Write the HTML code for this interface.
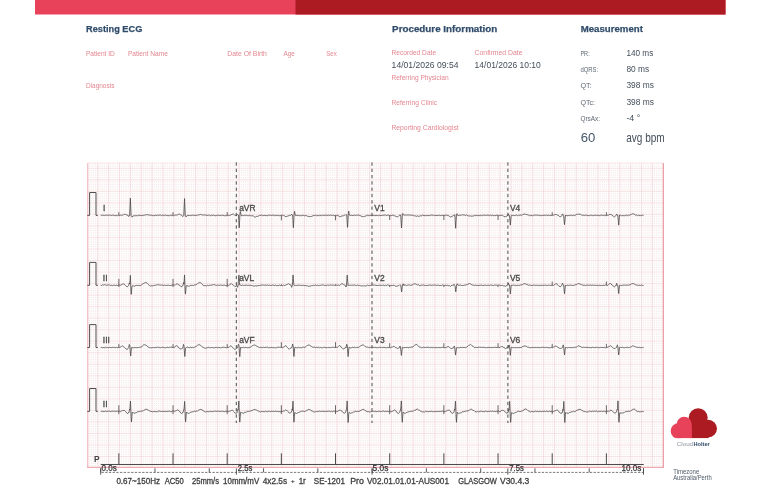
<!DOCTYPE html>
<html><head><meta charset="utf-8"><style>
html,body{margin:0;padding:0;background:#fff;width:768px;height:489px;overflow:hidden;position:relative}
svg text{font-family:"Liberation Sans", sans-serif}
svg{filter:blur(0.35px)}
</style></head><body>
<svg width="768" height="489" viewBox="0 0 768 489" style="position:absolute;left:0;top:0">
<rect x="35" y="0" width="690.5" height="14.5" fill="#e8415a"/>
<rect x="295.5" y="0" width="430" height="14.5" fill="#ac1b22"/>
<text x="86.10" y="32.30" font-size="9.74" fill="#304c6a" font-weight="bold" textLength="56.20" lengthAdjust="spacingAndGlyphs" stroke="#304c6a" stroke-width="0.25">Resting ECG</text>
<text x="392.10" y="32.40" font-size="9.74" fill="#304c6a" font-weight="bold" textLength="105.20" lengthAdjust="spacingAndGlyphs" stroke="#304c6a" stroke-width="0.25">Procedure Information</text>
<text x="580.70" y="32.20" font-size="9.74" fill="#304c6a" font-weight="bold" textLength="62.20" lengthAdjust="spacingAndGlyphs" stroke="#304c6a" stroke-width="0.25">Measurement</text>
<text x="85.90" y="55.60" font-size="6.98" fill="#e3868f" textLength="29.00" lengthAdjust="spacingAndGlyphs">Patient ID</text>
<text x="127.90" y="55.60" font-size="6.98" fill="#e3868f" textLength="40.00" lengthAdjust="spacingAndGlyphs">Patient Name</text>
<text x="227.30" y="55.60" font-size="6.98" fill="#e3868f" textLength="39.60" lengthAdjust="spacingAndGlyphs">Date Of Birth</text>
<text x="283.50" y="55.60" font-size="6.98" fill="#e3868f" textLength="11.30" lengthAdjust="spacingAndGlyphs">Age</text>
<text x="326.30" y="55.60" font-size="6.98" fill="#e3868f" textLength="10.40" lengthAdjust="spacingAndGlyphs">Sex</text>
<text x="85.90" y="88.40" font-size="6.98" fill="#e3868f" textLength="28.50" lengthAdjust="spacingAndGlyphs">Diagnosis</text>
<text x="391.60" y="55.40" font-size="6.98" fill="#e3868f" textLength="44.50" lengthAdjust="spacingAndGlyphs">Recorded Date</text>
<text x="474.60" y="55.40" font-size="6.98" fill="#e3868f" textLength="47.90" lengthAdjust="spacingAndGlyphs">Confirmed Date</text>
<text x="391.40" y="80.30" font-size="6.98" fill="#e3868f" textLength="57.30" lengthAdjust="spacingAndGlyphs">Referring Physician</text>
<text x="391.40" y="105.30" font-size="6.98" fill="#e3868f" textLength="45.80" lengthAdjust="spacingAndGlyphs">Referring Clinic</text>
<text x="391.40" y="130.10" font-size="6.98" fill="#e3868f" textLength="67.30" lengthAdjust="spacingAndGlyphs">Reporting Cardiologist</text>
<text x="391.60" y="67.80" font-size="9.89" fill="#434e5a" textLength="67.00" lengthAdjust="spacingAndGlyphs">14/01/2026 09:54</text>
<text x="474.60" y="67.80" font-size="9.89" fill="#434e5a" textLength="66.20" lengthAdjust="spacingAndGlyphs">14/01/2026 10:10</text>
<text x="580.40" y="55.70" font-size="6.98" fill="#5d6773" textLength="9.30" lengthAdjust="spacingAndGlyphs">PR:</text>
<text x="626.40" y="55.70" font-size="8.74" fill="#434e5a" textLength="26.90" lengthAdjust="spacingAndGlyphs">140 ms</text>
<text x="580.40" y="72.10" font-size="6.98" fill="#5d6773" textLength="17.80" lengthAdjust="spacingAndGlyphs">dQRS:</text>
<text x="626.40" y="72.10" font-size="8.74" fill="#434e5a" textLength="22.80" lengthAdjust="spacingAndGlyphs">80 ms</text>
<text x="580.40" y="88.40" font-size="6.98" fill="#5d6773" textLength="11.20" lengthAdjust="spacingAndGlyphs">QT:</text>
<text x="626.40" y="88.40" font-size="8.74" fill="#434e5a" textLength="27.50" lengthAdjust="spacingAndGlyphs">398 ms</text>
<text x="580.40" y="104.80" font-size="6.98" fill="#5d6773" textLength="14.60" lengthAdjust="spacingAndGlyphs">QTc:</text>
<text x="626.40" y="104.80" font-size="8.74" fill="#434e5a" textLength="27.50" lengthAdjust="spacingAndGlyphs">398 ms</text>
<text x="580.40" y="121.40" font-size="6.98" fill="#5d6773" textLength="19.60" lengthAdjust="spacingAndGlyphs">QrsAx:</text>
<text x="626.40" y="121.40" font-size="8.74" fill="#434e5a" textLength="13.90" lengthAdjust="spacingAndGlyphs">-4 °</text>
<text x="580.70" y="142.40" font-size="13.04" fill="#44566a" textLength="14.60" lengthAdjust="spacingAndGlyphs">60</text>
<text x="626.20" y="142.40" font-size="12.55" fill="#434e5a" textLength="38.50" lengthAdjust="spacingAndGlyphs">avg bpm</text>
<defs><filter id="gb" x="-1%" y="-1%" width="102%" height="102%"><feGaussianBlur stdDeviation="0.3"/></filter></defs><g filter="url(#gb)">
<rect x="87.7" y="162.9" width="575.5999999999999" height="304.5" fill="#fefcfc"/>
<path d="M87.7 163.69H663.3M87.7 165.99H663.3M87.7 170.61H663.3M87.7 172.91H663.3M87.7 175.22H663.3M87.7 177.52H663.3M87.7 182.13H663.3M87.7 184.44H663.3M87.7 186.74H663.3M87.7 189.05H663.3M87.7 193.66H663.3M87.7 195.97H663.3M87.7 198.27H663.3M87.7 200.58H663.3M87.7 205.19H663.3M87.7 207.50H663.3M87.7 209.80H663.3M87.7 212.11H663.3M87.7 216.72H663.3M87.7 219.02H663.3M87.7 221.33H663.3M87.7 223.63H663.3M87.7 228.25H663.3M87.7 230.55H663.3M87.7 232.86H663.3M87.7 235.16H663.3M87.7 239.77H663.3M87.7 242.08H663.3M87.7 244.38H663.3M87.7 246.69H663.3M87.7 251.30H663.3M87.7 253.61H663.3M87.7 255.91H663.3M87.7 258.22H663.3M87.7 262.83H663.3M87.7 265.14H663.3M87.7 267.44H663.3M87.7 269.75H663.3M87.7 274.36H663.3M87.7 276.66H663.3M87.7 278.97H663.3M87.7 281.27H663.3M87.7 285.89H663.3M87.7 288.19H663.3M87.7 290.50H663.3M87.7 292.80H663.3M87.7 297.41H663.3M87.7 299.72H663.3M87.7 302.02H663.3M87.7 304.33H663.3M87.7 308.94H663.3M87.7 311.25H663.3M87.7 313.55H663.3M87.7 315.86H663.3M87.7 320.47H663.3M87.7 322.78H663.3M87.7 325.08H663.3M87.7 327.39H663.3M87.7 332.00H663.3M87.7 334.30H663.3M87.7 336.61H663.3M87.7 338.91H663.3M87.7 343.53H663.3M87.7 345.83H663.3M87.7 348.14H663.3M87.7 350.44H663.3M87.7 355.05H663.3M87.7 357.36H663.3M87.7 359.66H663.3M87.7 361.97H663.3M87.7 366.58H663.3M87.7 368.89H663.3M87.7 371.19H663.3M87.7 373.50H663.3M87.7 378.11H663.3M87.7 380.42H663.3M87.7 382.72H663.3M87.7 385.03H663.3M87.7 389.64H663.3M87.7 391.94H663.3M87.7 394.25H663.3M87.7 396.55H663.3M87.7 401.17H663.3M87.7 403.47H663.3M87.7 405.78H663.3M87.7 408.08H663.3M87.7 412.69H663.3M87.7 415.00H663.3M87.7 417.30H663.3M87.7 419.61H663.3M87.7 424.22H663.3M87.7 426.53H663.3M87.7 428.83H663.3M87.7 431.14H663.3M87.7 435.75H663.3M87.7 438.06H663.3M87.7 440.36H663.3M87.7 442.67H663.3M87.7 447.28H663.3M87.7 449.58H663.3M87.7 451.89H663.3M87.7 454.19H663.3M87.7 458.81H663.3M87.7 461.11H663.3M87.7 463.42H663.3M87.7 465.72H663.3" stroke="#dfcccf" stroke-width="0.65" stroke-dasharray="0.65 1.5250" stroke-dashoffset="-1.0250" fill="none"/>
<path d="M97.75 162.9V467.4M108.62 162.9V467.4M119.50 162.9V467.4M130.38 162.9V467.4M141.25 162.9V467.4M152.12 162.9V467.4M163.00 162.9V467.4M173.88 162.9V467.4M184.75 162.9V467.4M195.62 162.9V467.4M206.50 162.9V467.4M217.38 162.9V467.4M228.25 162.9V467.4M239.12 162.9V467.4M250.00 162.9V467.4M260.88 162.9V467.4M271.75 162.9V467.4M282.62 162.9V467.4M293.50 162.9V467.4M304.38 162.9V467.4M315.25 162.9V467.4M326.12 162.9V467.4M337.00 162.9V467.4M347.88 162.9V467.4M358.75 162.9V467.4M369.62 162.9V467.4M380.50 162.9V467.4M391.38 162.9V467.4M402.25 162.9V467.4M413.12 162.9V467.4M424.00 162.9V467.4M434.88 162.9V467.4M445.75 162.9V467.4M456.62 162.9V467.4M467.50 162.9V467.4M478.38 162.9V467.4M489.25 162.9V467.4M500.12 162.9V467.4M511.00 162.9V467.4M521.88 162.9V467.4M532.75 162.9V467.4M543.62 162.9V467.4M554.50 162.9V467.4M565.38 162.9V467.4M576.25 162.9V467.4M587.12 162.9V467.4M598.00 162.9V467.4M608.88 162.9V467.4M619.75 162.9V467.4M630.62 162.9V467.4M641.50 162.9V467.4M652.38 162.9V467.4M87.7 168.30H663.3M87.7 179.83H663.3M87.7 191.36H663.3M87.7 202.88H663.3M87.7 214.41H663.3M87.7 225.94H663.3M87.7 237.47H663.3M87.7 249.00H663.3M87.7 260.52H663.3M87.7 272.05H663.3M87.7 283.58H663.3M87.7 295.11H663.3M87.7 306.64H663.3M87.7 318.16H663.3M87.7 329.69H663.3M87.7 341.22H663.3M87.7 352.75H663.3M87.7 364.28H663.3M87.7 375.80H663.3M87.7 387.33H663.3M87.7 398.86H663.3M87.7 410.39H663.3M87.7 421.92H663.3M87.7 433.44H663.3M87.7 444.97H663.3M87.7 456.50H663.3" stroke="#f1d0d4" stroke-width="0.6" fill="none"/>
<path d="M87.7 162.9V467.4" fill="none" stroke="#f2c2c7" stroke-width="1.3"/>
<path d="M87.10000000000001 467.4H663.3" fill="none" stroke="#eeabb2" stroke-width="1.1"/>
<path d="M663.3 162.9V467.9" fill="none" stroke="#e99aa3" stroke-width="1.25"/>
<path d="M87.7 162.9H663.3" fill="none" stroke="#f6dcdf" stroke-width="0.6"/>
</g>
<path d="M100.70 215.40L101.50 215.28L102.30 215.16L103.10 215.51L103.90 215.10L104.70 215.43L105.50 215.31L106.30 215.09L107.10 215.41L107.90 215.08L108.70 215.35L109.50 215.10L110.30 215.11L111.10 215.35L111.90 215.63L112.70 215.14L113.50 215.21L114.30 215.49L115.10 215.71L115.90 215.45L116.70 215.33L117.50 215.73L118.30 215.08L119.10 215.65L119.90 215.25L120.70 215.15L121.50 215.12L122.30 215.17L123.10 215.26L123.90 214.33L124.70 214.27L125.50 214.48L126.30 214.79L127.10 215.28L127.85 215.07L127.90 215.15L128.65 216.32L128.70 216.59L129.45 215.41L129.50 215.33L129.60 215.52L130.30 199.41L130.35 198.16L131.10 215.75L131.15 215.69L131.90 216.67L132.05 217.17L132.70 216.10L132.95 215.94L133.50 215.87L134.30 215.60L135.10 216.08L135.90 215.46L136.70 215.63L137.50 215.81L138.30 215.32L139.10 215.51L139.90 215.15L140.70 215.56L141.50 215.59L142.30 215.42L143.10 215.57L143.90 215.06L144.70 215.17L145.50 214.90L146.30 214.73L147.10 214.57L147.90 214.89L148.70 215.12L149.50 214.99L150.30 215.29L151.10 214.98L151.90 215.50L152.70 215.49L153.50 215.74L154.30 215.62L155.10 215.25L155.90 215.32L156.70 215.52L157.50 215.07L158.30 215.37L159.10 215.17L159.90 215.13L160.70 215.09L161.50 215.59L162.30 215.14L163.10 215.22L163.90 215.32L164.70 215.66L165.50 215.11L166.30 215.36L167.10 215.43L167.90 215.67L168.70 215.62L169.50 215.65L170.30 215.24L171.10 215.34L171.90 215.30L172.70 215.67L173.50 215.72L174.30 215.16L175.10 215.17L175.90 215.19L176.70 215.07L177.50 214.90L178.30 214.48L179.10 214.04L179.90 214.17L180.70 214.95L181.50 215.21L182.02 215.43L182.30 216.11L182.82 216.66L183.10 216.16L183.62 215.54L183.77 215.59L183.90 212.17L184.52 198.58L184.70 202.63L185.27 215.81L185.32 215.76L185.50 215.79L186.22 217.04L186.30 216.71L187.10 215.81L187.12 215.37L187.90 215.42L188.70 215.54L189.50 215.51L190.30 215.60L191.10 215.35L191.90 215.26L192.70 215.31L193.50 215.22L194.30 215.36L195.10 215.10L195.90 215.66L196.70 215.44L197.50 215.03L198.30 214.98L199.10 214.87L199.90 214.69L200.70 214.37L201.50 214.85L202.30 215.04L203.10 214.84L203.90 215.05L204.70 214.92L205.50 215.04L206.30 215.26L207.10 215.22L207.90 215.63L208.70 215.16L209.50 215.07L210.30 215.72L211.10 215.42L211.90 215.15L212.70 215.43L213.50 215.07L214.30 215.42L215.10 215.73L215.90 215.65L216.70 215.54L217.50 215.23L218.30 215.31L219.10 215.17L219.90 215.59L220.70 215.42L221.50 215.60L222.30 215.28L223.10 215.21L223.90 215.62L224.70 215.74L225.50 215.65L226.30 215.61L227.10 215.62L227.90 215.57L228.70 215.21L229.50 215.41L230.30 215.25L231.10 214.85L231.90 214.44L232.70 214.15L233.50 214.08L234.30 214.80L235.10 215.44L235.90 215.31L236.19 215.69L236.30 215.88M118.85 215.40V212.10M173.02 215.40V212.10M227.19 215.40V212.10M236.30 215.40L237.10 215.18L237.49 214.51L237.90 214.68L238.44 215.04L238.69 219.29L238.70 219.46L239.19 227.79L239.50 222.90L239.64 220.56L239.94 213.79L240.30 211.99L240.39 211.61L241.10 214.90L241.14 215.51L241.90 215.69L242.70 215.60L243.50 215.58L244.30 215.38L245.10 215.17L245.90 215.60L246.70 215.28L247.50 215.61L248.30 215.73L249.10 215.34L249.90 215.37L250.70 215.82L251.50 215.80L252.30 215.65L253.10 215.94L253.90 216.29L254.70 217.04L255.50 217.00L256.30 216.35L257.10 216.51L257.90 216.28L258.70 215.80L259.50 215.43L260.30 215.48L261.10 215.16L261.90 215.06L262.70 215.73L263.50 215.50L264.30 215.42L265.10 215.70L265.90 215.35L266.70 215.66L267.50 215.63L268.30 215.20L269.10 215.23L269.90 215.26L270.70 215.22L271.50 215.46L272.30 215.23L273.10 215.34L273.90 215.14L274.70 215.69L275.50 215.30L276.30 215.37L277.10 215.46L277.90 215.68L278.70 215.34L279.50 215.69L280.30 215.40L281.10 215.42L281.90 215.42L282.70 215.11L283.50 215.54L284.30 215.72L285.10 216.11L285.90 217.00L286.70 216.40L287.50 216.12L288.30 215.86L289.10 215.52L289.90 215.29L290.46 215.42L290.70 215.28L291.50 214.91L291.66 214.32L292.30 215.07L292.61 215.06L292.86 219.34L293.10 223.63L293.36 227.71L293.81 220.36L293.90 218.55L294.11 214.09L294.56 211.36L294.70 212.23L295.31 215.40L295.50 215.41L296.30 215.53L297.10 215.37L297.90 215.42L298.70 215.38L299.50 215.71L300.30 215.54L301.10 215.66L301.90 215.71L302.70 215.24L303.50 215.46L304.30 215.76L305.10 215.78L305.90 215.45L306.70 215.70L307.50 216.26L308.30 216.31L309.10 216.61L309.90 216.45L310.70 216.63L311.50 216.38L312.30 216.14L313.10 215.39L313.90 215.65L314.70 215.55L315.50 215.16L316.30 215.67L317.10 215.73L317.90 215.20L318.70 215.72L319.50 215.33L320.30 215.39L321.10 215.74L321.90 215.63L322.70 215.16L323.50 215.35L324.30 215.41L325.10 215.29L325.90 215.19L326.70 215.27L327.50 215.56L328.30 215.06L329.10 215.44L329.90 215.36L330.70 215.06L331.50 215.28L332.30 215.49L333.10 215.41L333.90 215.10L334.70 215.74L335.50 215.60L336.30 215.74L337.10 215.19L337.90 215.50L338.70 215.76L339.50 216.78L340.30 216.64L341.10 216.25L341.90 215.94L342.70 215.90L343.50 215.67L344.30 215.24L344.63 215.16L345.10 215.38L345.83 214.65L345.90 214.79L346.70 214.89L346.78 214.92L347.03 219.63L347.50 227.16L347.53 227.40L347.98 220.63L348.28 213.89L348.30 213.90L348.73 211.11L349.10 213.62L349.48 215.10L349.90 215.65L350.70 215.37L351.50 215.29L352.30 215.44L353.10 215.70L353.90 215.24L354.70 215.14L355.50 215.42L356.30 215.22L357.10 215.13L357.90 215.19L358.70 215.16L359.50 215.37L360.30 215.64L361.10 215.92L361.90 216.58L362.70 216.54L363.50 216.80L364.30 216.47L365.10 216.32L365.90 215.75L366.70 215.61L367.50 215.25L368.30 215.64L369.10 215.46L369.90 215.19L370.70 215.38L371.50 215.70L372.00 215.12M281.36 215.40V220.30M335.53 215.40V220.30M372.00 215.40L372.80 215.62L373.60 215.35L374.40 215.40L375.20 215.63L376.00 215.33L376.80 215.40L377.60 215.53L378.40 215.74L379.20 215.29L380.00 215.63L380.80 215.54L381.60 215.50L382.40 215.33L383.20 215.29L384.00 215.09L384.80 215.14L385.60 215.10L386.40 215.57L387.20 215.23L388.00 215.16L388.80 215.11L389.60 215.64L390.40 215.66L391.20 215.52L392.00 215.25L392.80 215.25L393.60 215.38L394.40 215.74L395.20 215.96L396.00 216.60L396.80 216.63L397.60 216.87L398.40 216.41L399.00 215.81L399.20 215.35L400.00 215.02L400.70 215.05L400.80 216.75L401.00 219.83L401.50 228.02L401.60 226.50L402.00 220.16L402.30 214.59L402.40 214.60L402.80 213.45L403.20 214.43L403.60 215.10L404.00 215.32L404.80 215.04L405.60 214.99L406.40 215.11L407.20 214.96L408.00 215.10L408.80 214.96L409.60 215.08L410.40 215.04L411.20 215.17L412.00 215.42L412.80 215.24L413.60 215.36L414.40 216.01L415.20 215.63L416.00 216.21L416.80 216.28L417.60 215.87L418.40 216.33L419.20 216.21L420.00 215.85L420.80 215.77L421.60 215.72L422.40 215.19L423.20 215.43L424.00 215.41L424.80 215.64L425.60 215.61L426.40 215.63L427.20 215.46L428.00 215.67L428.80 215.53L429.60 215.54L430.40 215.21L431.20 215.07L432.00 215.14L432.80 215.30L433.60 215.12L434.40 215.64L435.20 215.44L436.00 215.49L436.80 215.49L437.60 215.53L438.40 215.39L439.20 215.05L440.00 215.61L440.80 215.57L441.60 215.40L442.40 215.42L443.20 215.51L444.00 215.10L444.80 215.57L445.60 215.23L446.40 215.11L447.20 215.28L448.00 215.74L448.80 215.67L449.60 216.50L450.40 217.06L451.20 216.76L452.00 216.34L452.80 215.94L453.17 215.90L453.60 215.46L454.17 214.77L454.40 214.95L454.87 214.89L455.17 219.93L455.20 220.48L455.67 228.27L456.00 222.73L456.17 220.21L456.47 214.46L456.80 213.83L456.97 213.64L457.60 215.17L457.77 215.53L458.40 215.51L459.20 215.21L460.00 215.32L460.80 215.20L461.60 215.09L462.40 214.74L463.20 215.20L464.00 214.69L464.80 215.29L465.60 215.36L466.40 214.86L467.20 215.33L468.00 215.76L468.80 216.06L469.60 215.89L470.40 215.94L471.20 215.99L472.00 216.49L472.80 215.85L473.60 215.94L474.40 215.46L475.20 215.59L476.00 215.80L476.80 215.18L477.60 215.64L478.40 215.41L479.20 215.67L480.00 215.54L480.80 215.21L481.60 215.68L482.40 215.39L483.20 215.07L484.00 215.05L484.80 215.39L485.60 215.37L486.40 215.26L487.20 215.15L488.00 215.29L488.80 215.27L489.60 215.64L490.40 215.05L491.20 215.58L492.00 215.64L492.80 215.13L493.60 215.70L494.40 215.55L495.20 215.68L496.00 215.25L496.80 215.31L497.60 215.33L498.40 215.75L499.20 215.46L500.00 215.30L500.80 215.37L501.60 215.32L502.40 215.33L503.20 215.72L504.00 216.70L504.80 216.63L505.60 217.00L506.40 216.11L507.20 215.67L507.34 215.78L507.90 214.92M389.70 215.40V220.00M443.87 215.40V220.00M498.04 215.40V220.00M507.90 215.11L508.44 213.88L508.70 214.74L509.24 215.68L509.49 215.62L509.50 215.61L510.30 224.65L510.34 225.11L511.10 216.43L511.19 215.55L511.90 215.08L512.70 215.56L513.50 215.37L514.30 215.58L515.10 215.50L515.90 215.25L516.70 215.08L517.50 215.70L518.30 215.14L519.10 215.36L519.90 215.24L520.70 215.11L521.50 215.24L522.30 215.11L523.10 214.28L523.90 214.29L524.70 213.97L525.50 214.31L526.30 214.50L527.10 214.67L527.90 214.92L528.70 215.10L529.50 215.65L530.30 215.39L531.10 215.20L531.90 215.68L532.70 215.75L533.50 215.36L534.30 215.15L535.10 215.18L535.90 215.11L536.70 215.29L537.50 215.11L538.30 215.22L539.10 215.23L539.90 215.45L540.70 215.67L541.50 215.57L542.30 215.34L543.10 215.34L543.90 215.42L544.70 215.31L545.50 215.29L546.30 215.09L547.10 215.24L547.90 215.73L548.70 215.14L549.50 215.40L550.30 215.49L551.10 215.65L551.90 215.20L552.70 215.22L553.50 215.12L554.30 214.95L555.10 214.49L555.90 214.52L556.70 214.66L557.50 215.24L558.30 215.26L559.10 215.94L559.90 216.84L560.70 216.73L561.50 215.87L561.81 215.77L562.30 214.26L562.61 213.89L563.10 215.14L563.41 215.64L563.66 215.65L563.90 218.39L564.51 224.62L564.70 222.43L565.36 215.16L565.50 215.42L566.30 215.53L567.10 215.71L567.90 215.56L568.70 215.50L569.50 215.59L570.30 215.37L571.10 215.44L571.90 215.08L572.70 215.59L573.50 215.19L574.30 215.62L575.10 215.31L575.90 214.86L576.70 214.42L577.50 214.18L578.30 214.23L579.10 214.27L579.90 214.07L580.70 214.38L581.50 215.01L582.30 215.26L583.10 215.25L583.90 215.18L584.70 215.46L585.50 215.06L586.30 215.26L587.10 215.37L587.90 215.72L588.70 215.50L589.50 215.67L590.30 215.38L591.10 215.21L591.90 215.22L592.70 215.72L593.50 215.54L594.30 215.27L595.10 215.07L595.90 215.40L596.70 215.52L597.50 215.34L598.30 215.23L599.10 215.52L599.90 215.70L600.70 215.21L601.50 215.07L602.30 215.29L603.10 215.34L603.90 215.53L604.70 215.19L605.50 215.61L606.30 215.56L607.10 215.37L607.90 215.04L608.70 215.22L609.50 214.27L610.30 214.43L611.10 214.37L611.90 214.96L612.70 215.97L613.50 216.30L614.30 217.01L615.10 216.29L615.90 215.53L615.98 215.51L616.70 214.07L616.78 214.08L617.50 215.57L617.58 215.16L617.83 215.33L618.30 220.40L618.68 225.13L619.10 219.90L619.53 215.09L619.90 215.09L620.70 215.33L621.50 215.68L622.30 215.67L623.10 215.56L623.90 215.75L624.70 215.70L625.50 215.28L626.30 215.18L627.10 215.70L627.90 215.54L628.70 214.97L629.50 215.28L630.30 214.83L631.10 214.50L631.90 214.15L632.70 213.87L633.50 213.82L634.30 214.28L635.10 214.67L635.90 215.38L636.70 214.99L637.50 215.67L638.30 215.18L639.10 215.30L639.90 215.62L640.70 215.63L641.50 215.35L642.30 215.08L643.10 215.38L643.60 215.31M552.21 215.40V212.20M606.38 215.40V212.20M100.70 285.30L101.50 285.49L102.30 284.88L103.10 284.90L103.90 285.20L104.70 284.57L105.50 284.87L106.30 285.22L107.10 285.28L107.90 284.85L108.70 284.91L109.50 284.96L110.30 285.58L111.10 285.13L111.90 285.47L112.70 285.58L113.50 285.19L114.30 285.14L115.10 285.62L115.90 285.38L116.70 285.13L117.50 285.45L118.30 285.17L119.10 285.14L119.90 284.90L120.70 285.22L121.50 284.81L122.30 283.97L123.10 284.05L123.90 283.93L124.70 284.72L125.50 285.39L126.30 286.37L127.10 286.90L127.90 286.25L128.65 285.57L128.70 285.48L129.35 282.88L129.50 283.72L129.75 284.12L130.05 280.49L130.30 276.14L130.35 275.34L130.50 277.92L130.95 290.97L131.10 292.56L131.25 294.35L131.90 286.90L132.00 286.04L132.70 285.70L133.50 285.88L134.30 286.26L135.10 285.80L135.90 285.50L136.70 285.30L137.50 285.52L138.30 285.26L139.10 285.66L139.90 285.53L140.70 285.51L141.50 284.79L142.30 284.28L143.10 283.72L143.90 283.32L144.70 282.89L145.50 282.47L146.30 282.52L147.10 283.22L147.90 284.10L148.70 284.84L149.50 285.46L150.30 285.90L151.10 285.96L151.90 285.58L152.70 285.96L153.50 285.41L154.30 285.44L155.10 285.18L155.90 285.33L156.70 284.86L157.50 284.80L158.30 284.74L159.10 284.66L159.90 285.22L160.70 285.08L161.50 285.00L162.30 285.12L163.10 285.59L163.90 285.28L164.70 285.10L165.50 285.51L166.30 285.41L167.10 285.64L167.90 285.02L168.70 285.28L169.50 285.52L170.30 285.54L171.10 285.59L171.90 284.98L172.70 285.15L173.50 285.02L174.30 284.99L175.10 285.25L175.90 284.38L176.70 284.06L177.50 283.75L178.30 284.72L179.10 285.02L179.90 285.40L180.70 286.45L181.50 286.91L182.30 285.87L182.82 285.81L183.10 284.64L183.52 282.68L183.90 284.18L183.92 284.09L184.22 280.07L184.52 274.94L184.67 277.80L184.70 278.72L185.12 290.69L185.42 294.14L185.50 293.44L186.17 285.97L186.30 285.66L187.10 285.90L187.90 285.89L188.70 286.27L189.50 285.96L190.30 285.44L191.10 285.30L191.90 285.38L192.70 285.40L193.50 285.41L194.30 284.96L195.10 284.88L195.90 285.00L196.70 284.36L197.50 283.66L198.30 283.00L199.10 282.95L199.90 282.38L200.70 282.89L201.50 283.38L202.30 284.17L203.10 285.16L203.90 285.76L204.70 285.64L205.50 285.65L206.30 285.98L207.10 285.46L207.90 285.16L208.70 285.64L209.50 285.19L210.30 285.36L211.10 284.97L211.90 285.22L212.70 284.88L213.50 284.67L214.30 284.63L215.10 285.09L215.90 285.24L216.70 285.50L217.50 284.97L218.30 285.37L219.10 285.20L219.90 285.30L220.70 285.05L221.50 285.15L222.30 285.31L223.10 285.60L223.90 285.03L224.70 285.29L225.50 285.51L226.30 285.63L227.10 285.09L227.90 285.02L228.70 285.47L229.50 285.11L230.30 284.11L231.10 283.39L231.90 284.28L232.70 284.57L233.50 285.48L234.30 285.83L235.10 286.65L235.90 286.30L236.30 286.48M118.85 287.10V278.90M173.02 287.10V278.90M227.19 287.10V278.90M236.30 284.92L236.59 284.85L237.10 286.14L237.49 287.29L237.90 286.49L238.09 285.66L238.39 281.27L238.70 277.45L238.89 275.11L239.50 282.80L239.69 285.04L240.30 285.12L241.10 285.46L241.90 285.58L242.70 284.98L243.50 285.34L244.30 285.48L245.10 284.98L245.90 285.54L246.70 285.03L247.50 285.37L248.30 285.34L249.10 285.41L249.90 285.21L250.70 285.35L251.50 285.56L252.30 285.61L253.10 285.95L253.90 285.96L254.70 286.05L255.50 285.74L256.30 286.04L257.10 285.78L257.90 285.43L258.70 285.66L259.50 285.58L260.30 285.31L261.10 285.09L261.90 285.29L262.70 285.03L263.50 285.04L264.30 285.25L265.10 285.01L265.90 285.26L266.70 285.31L267.50 284.98L268.30 285.40L269.10 285.01L269.90 285.46L270.70 285.49L271.50 285.31L272.30 284.99L273.10 285.30L273.90 285.21L274.70 285.62L275.50 285.05L276.30 285.55L277.10 285.65L277.90 285.46L278.70 285.52L279.50 285.09L280.30 285.64L281.10 285.29L281.90 285.62L282.70 285.59L283.50 285.06L284.30 285.49L285.10 285.54L285.90 284.76L286.70 284.55L287.50 284.29L288.30 283.56L289.10 284.31L289.90 284.42L290.70 285.24L290.76 284.80L291.50 286.71L291.66 287.34L292.26 285.68L292.30 285.13L292.56 281.47L293.06 274.97L293.10 275.28L293.86 285.08L293.90 285.06L294.70 285.61L295.50 285.43L296.30 285.58L297.10 285.07L297.90 285.50L298.70 285.03L299.50 285.32L300.30 285.40L301.10 285.20L301.90 285.56L302.70 285.35L303.50 285.38L304.30 285.63L305.10 285.15L305.90 285.89L306.70 285.80L307.50 285.81L308.30 286.25L309.10 285.94L309.90 286.40L310.70 285.97L311.50 285.64L312.30 285.75L313.10 285.40L313.90 285.14L314.70 285.50L315.50 284.99L316.30 285.53L317.10 285.13L317.90 285.40L318.70 285.64L319.50 285.36L320.30 285.41L321.10 285.17L321.90 284.95L322.70 284.97L323.50 285.05L324.30 285.38L325.10 285.25L325.90 285.31L326.70 285.58L327.50 285.04L328.30 285.11L329.10 285.41L329.90 284.97L330.70 284.95L331.50 285.20L332.30 285.02L333.10 285.20L333.90 285.11L334.70 285.36L335.50 285.36L336.30 285.09L337.10 285.39L337.90 285.28L338.70 285.03L339.50 285.52L340.30 284.80L341.10 284.26L341.90 283.69L342.70 283.91L343.50 284.44L344.30 284.93L344.93 284.98L345.10 285.28L345.83 286.71L345.90 287.02L346.43 285.93L346.70 281.81L346.73 281.57L347.23 275.06L347.50 278.85L348.03 285.46L348.30 285.12L349.10 285.58L349.90 284.98L350.70 285.32L351.50 285.23L352.30 285.12L353.10 284.99L353.90 285.50L354.70 284.96L355.50 285.34L356.30 285.61L357.10 285.06L357.90 285.12L358.70 285.45L359.50 285.46L360.30 285.69L361.10 285.98L361.90 285.71L362.70 285.93L363.50 285.96L364.30 285.70L365.10 286.14L365.90 285.88L366.70 285.68L367.50 285.07L368.30 285.59L369.10 285.49L369.90 285.28L370.70 285.47L371.50 285.27L372.00 285.11M281.36 285.30V284.30M335.53 285.30V284.30M372.00 285.30L372.80 285.02L373.60 285.11L374.40 284.98L375.20 285.18L376.00 285.47L376.80 285.44L377.60 285.54L378.40 285.45L379.20 285.14L380.00 285.34L380.80 285.26L381.60 285.50L382.40 285.32L383.20 285.14L384.00 285.40L384.80 285.63L385.60 285.10L386.40 285.57L387.20 284.96L388.00 285.13L388.80 285.12L389.60 285.47L390.40 285.61L391.20 285.47L392.00 285.18L392.80 285.58L393.60 285.26L394.40 285.38L395.20 286.14L396.00 286.17L396.80 286.18L397.60 285.89L398.40 285.84L398.90 285.38L399.20 285.36L399.80 284.76L400.00 285.02L400.70 285.26L400.80 285.46L401.60 291.85L402.30 285.98L402.40 284.92L403.10 283.99L403.20 283.78L403.90 285.59L404.00 285.05L404.80 284.97L405.60 285.02L406.40 285.60L407.20 285.19L408.00 285.05L408.80 284.97L409.60 284.96L410.40 285.37L411.20 285.22L412.00 285.04L412.80 284.73L413.60 283.87L414.40 283.94L415.20 283.71L416.00 284.23L416.80 284.59L417.60 285.02L418.40 284.72L419.20 285.45L420.00 285.55L420.80 285.60L421.60 285.02L422.40 285.09L423.20 285.03L424.00 284.97L424.80 285.54L425.60 285.52L426.40 285.39L427.20 285.53L428.00 285.39L428.80 285.15L429.60 285.02L430.40 285.02L431.20 285.48L432.00 285.09L432.80 285.17L433.60 285.25L434.40 284.96L435.20 285.13L436.00 285.15L436.80 285.45L437.60 285.21L438.40 285.17L439.20 285.62L440.00 285.30L440.80 285.55L441.60 285.38L442.40 284.97L443.20 285.24L444.00 285.26L444.80 285.49L445.60 285.19L446.40 285.45L447.20 285.36L448.00 285.22L448.80 285.89L449.60 285.65L450.40 286.32L451.20 285.75L452.00 285.34L452.80 285.24L453.07 285.58L453.60 285.26L453.97 284.27L454.40 284.93L454.87 285.30L454.97 285.51L455.20 286.95L455.77 291.80L456.00 289.82L456.47 286.34L456.57 284.96L456.80 285.03L457.27 283.75L457.60 284.28L458.07 285.44L458.40 285.30L459.20 285.03L460.00 285.40L460.80 285.01L461.60 285.50L462.40 285.44L463.20 285.49L464.00 285.36L464.80 285.11L465.60 285.00L466.40 284.74L467.20 284.73L468.00 283.79L468.80 284.10L469.60 283.51L470.40 283.90L471.20 284.32L472.00 285.12L472.80 285.09L473.60 285.13L474.40 285.54L475.20 285.11L476.00 285.27L476.80 285.32L477.60 285.48L478.40 285.48L479.20 285.40L480.00 285.19L480.80 285.18L481.60 285.06L482.40 285.54L483.20 285.41L484.00 285.47L484.80 285.07L485.60 285.26L486.40 285.49L487.20 285.36L488.00 285.04L488.80 285.27L489.60 285.57L490.40 285.12L491.20 285.08L492.00 285.16L492.80 285.44L493.60 285.54L494.40 285.06L495.20 285.06L496.00 285.12L496.80 285.18L497.60 285.32L498.40 285.06L499.20 285.18L500.00 285.08L500.80 285.64L501.60 285.51L502.40 285.19L503.20 286.05L504.00 285.73L504.80 286.01L505.60 286.24L506.40 285.81L507.20 285.57L507.24 285.35L507.90 284.60M389.70 285.30V287.10M443.87 285.30V287.10M498.04 285.30V287.10M507.90 284.51L508.34 283.28L508.70 283.85L509.14 285.10L509.50 285.23L509.54 284.98L510.30 293.30L510.34 294.00L511.10 285.86L511.14 285.30L511.90 285.39L512.70 285.27L513.50 285.05L514.30 285.37L515.10 285.23L515.90 285.47L516.70 285.59L517.50 285.25L518.30 285.35L519.10 285.45L519.90 285.17L520.70 284.91L521.50 285.00L522.30 284.71L523.10 284.17L523.90 283.75L524.70 283.75L525.50 283.86L526.30 284.26L527.10 284.59L527.90 284.83L528.70 285.25L529.50 284.97L530.30 285.23L531.10 285.49L531.90 285.45L532.70 285.39L533.50 285.13L534.30 285.25L535.10 285.27L535.90 285.39L536.70 285.24L537.50 285.42L538.30 285.60L539.10 285.08L539.90 285.41L540.70 285.49L541.50 285.22L542.30 285.29L543.10 285.63L543.90 284.98L544.70 285.33L545.50 285.06L546.30 285.50L547.10 285.61L547.90 285.31L548.70 285.02L549.50 285.35L550.30 285.33L551.10 285.45L551.90 285.31L552.70 285.37L553.50 285.39L554.30 284.77L555.10 284.01L555.90 283.92L556.70 283.70L557.50 284.79L558.30 285.36L559.10 286.34L559.90 286.32L560.70 286.69L561.50 285.68L561.71 285.35L562.30 283.65L562.51 283.11L563.10 284.40L563.31 285.25L563.71 285.25L563.90 287.46L564.51 293.70L564.70 291.62L565.31 285.11L565.50 285.47L566.30 285.61L567.10 285.32L567.90 285.10L568.70 285.51L569.50 285.22L570.30 285.10L571.10 285.04L571.90 285.49L572.70 285.51L573.50 285.36L574.30 285.18L575.10 285.08L575.90 284.55L576.70 284.63L577.50 283.75L578.30 283.64L579.10 283.76L579.90 284.06L580.70 284.28L581.50 284.59L582.30 285.07L583.10 284.93L583.90 285.50L584.70 285.19L585.50 285.54L586.30 285.14L587.10 285.21L587.90 285.13L588.70 285.25L589.50 285.08L590.30 284.95L591.10 285.46L591.90 285.15L592.70 285.12L593.50 285.16L594.30 285.29L595.10 285.25L595.90 285.40L596.70 285.41L597.50 285.20L598.30 285.60L599.10 285.55L599.90 284.99L600.70 285.53L601.50 285.58L602.30 285.50L603.10 285.05L603.90 285.53L604.70 285.39L605.50 284.96L606.30 284.95L607.10 285.57L607.90 285.19L608.70 284.40L609.50 283.60L610.30 283.36L611.10 283.91L611.90 285.09L612.70 285.54L613.50 286.09L614.30 286.87L615.10 286.40L615.88 285.43L615.90 285.87L616.68 283.26L616.70 283.43L617.48 285.43L617.50 285.59L617.88 285.50L618.30 290.00L618.68 293.59L619.10 289.47L619.48 285.32L619.90 285.47L620.70 285.26L621.50 285.57L622.30 285.34L623.10 285.14L623.90 285.11L624.70 285.05L625.50 285.29L626.30 284.99L627.10 285.26L627.90 285.01L628.70 285.16L629.50 284.97L630.30 284.66L631.10 284.43L631.90 283.39L632.70 283.75L633.50 283.58L634.30 284.01L635.10 284.55L635.90 285.07L636.70 285.00L637.50 285.17L638.30 285.60L639.10 285.00L639.90 285.39L640.70 285.40L641.50 284.97L642.30 285.38L643.10 285.43L643.60 285.60M552.21 285.29V281.59M606.38 285.29V281.59M100.70 347.51L101.50 347.38L102.30 347.84L103.10 347.51L103.90 347.49L104.70 347.78L105.50 347.17L106.30 347.65L107.10 347.59L107.90 347.39L108.70 347.75L109.50 347.41L110.30 347.48L111.10 347.52L111.90 347.69L112.70 347.30L113.50 347.45L114.30 347.45L115.10 347.54L115.90 347.73L116.70 347.36L117.50 347.73L118.30 347.43L119.10 347.49L119.90 347.23L120.70 346.98L121.50 346.48L122.30 345.81L123.10 346.46L123.90 346.98L124.70 347.58L125.50 348.30L126.30 349.30L127.10 349.39L127.90 348.75L128.55 347.63L128.70 347.37L129.35 344.46L129.50 344.84L129.85 345.94L130.15 350.63L130.30 352.06L130.65 355.99L131.10 351.60L131.45 347.58L131.90 347.61L132.70 347.70L133.50 347.79L134.30 347.58L135.10 347.58L135.90 347.59L136.70 347.64L137.50 347.56L138.30 347.61L139.10 347.26L139.90 347.49L140.70 347.15L141.50 346.99L142.30 345.96L143.10 345.31L143.90 344.59L144.70 344.80L145.50 345.04L146.30 345.39L147.10 345.90L147.90 346.90L148.70 347.42L149.50 347.68L150.30 347.73L151.10 347.83L151.90 347.82L152.70 347.58L153.50 347.54L154.30 347.62L155.10 347.81L155.90 347.19L156.70 347.55L157.50 347.18L158.30 347.23L159.10 347.72L159.90 347.55L160.70 347.79L161.50 347.46L162.30 347.16L163.10 347.42L163.90 347.56L164.70 347.81L165.50 347.84L166.30 347.48L167.10 347.44L167.90 347.22L168.70 347.60L169.50 347.30L170.30 347.26L171.10 347.16L171.90 347.15L172.70 347.63L173.50 347.21L174.30 347.64L175.10 346.47L175.90 346.19L176.70 345.51L177.50 346.18L178.30 347.45L179.10 347.71L179.90 348.86L180.70 349.14L181.50 348.82L182.30 348.51L182.72 348.10L183.10 346.36L183.52 344.35L183.90 345.46L184.02 346.34L184.32 350.92L184.70 354.87L184.82 356.50L185.50 348.63L185.62 347.83L186.30 347.65L187.10 347.16L187.90 347.16L188.70 347.61L189.50 347.72L190.30 347.21L191.10 347.37L191.90 347.66L192.70 347.25L193.50 347.69L194.30 347.32L195.10 346.78L195.90 346.57L196.70 346.09L197.50 345.30L198.30 344.91L199.10 344.35L199.90 345.08L200.70 345.39L201.50 346.30L202.30 346.93L203.10 347.29L203.90 347.65L204.70 348.14L205.50 348.27L206.30 348.03L207.10 347.72L207.90 347.42L208.70 347.21L209.50 347.84L210.30 347.64L211.10 347.73L211.90 347.38L212.70 347.57L213.50 347.83L214.30 347.73L215.10 347.57L215.90 347.37L216.70 347.45L217.50 347.77L218.30 347.41L219.10 347.63L219.90 347.57L220.70 347.78L221.50 347.72L222.30 347.35L223.10 347.15L223.90 347.33L224.70 347.45L225.50 347.56L226.30 347.72L227.10 347.77L227.90 347.13L228.70 347.44L229.50 346.74L230.30 346.03L231.10 345.98L231.90 346.61L232.70 347.71L233.50 348.31L234.30 349.07L235.10 349.69L235.90 348.81L236.30 348.20M118.85 347.50V344.10M173.02 347.50V344.10M227.19 347.50V344.10M236.30 348.20L237.10 347.74L237.59 347.78L237.90 346.12L238.49 344.18L238.70 345.12L238.99 345.76L239.39 352.18L239.50 353.49L239.79 356.68L240.30 350.63L240.59 347.33L241.10 347.68L241.90 347.70L242.70 347.47L243.50 347.21L244.30 347.71L245.10 347.69L245.90 347.31L246.70 347.55L247.50 347.77L248.30 347.75L249.10 347.44L249.90 347.29L250.70 347.12L251.50 346.42L252.30 345.85L253.10 345.25L253.90 345.22L254.70 344.93L255.50 345.41L256.30 345.86L257.10 346.53L257.90 346.73L258.70 346.95L259.50 347.76L260.30 347.38L261.10 347.22L261.90 347.59L262.70 347.70L263.50 347.26L264.30 347.57L265.10 347.39L265.90 347.51L266.70 347.16L267.50 347.17L268.30 347.84L269.10 347.76L269.90 347.49L270.70 347.55L271.50 347.33L272.30 347.70L273.10 347.45L273.90 347.81L274.70 347.69L275.50 347.72L276.30 347.82L277.10 347.33L277.90 347.18L278.70 347.29L279.50 347.28L280.30 347.21L281.10 347.19L281.90 347.53L282.70 347.70L283.50 347.14L284.30 346.82L285.10 346.09L285.90 345.56L286.70 346.76L287.50 347.59L288.30 348.26L289.10 349.31L289.90 348.51L290.70 348.07L291.50 347.73L291.76 347.89L292.30 345.54L292.66 343.93L293.10 345.68L293.16 345.71L293.56 352.43L293.90 356.35L293.96 356.51L294.70 347.87L294.76 347.33L295.50 347.40L296.30 347.78L297.10 347.78L297.90 347.74L298.70 347.18L299.50 347.70L300.30 347.65L301.10 347.60L301.90 347.83L302.70 347.16L303.50 347.16L304.30 347.43L305.10 347.26L305.90 346.61L306.70 345.75L307.50 345.40L308.30 345.20L309.10 344.82L309.90 345.39L310.70 345.94L311.50 346.41L312.30 347.07L313.10 347.09L313.90 347.25L314.70 347.23L315.50 347.62L316.30 347.16L317.10 347.65L317.90 347.29L318.70 347.18L319.50 347.80L320.30 347.30L321.10 347.80L321.90 347.76L322.70 347.77L323.50 347.25L324.30 347.46L325.10 347.22L325.90 347.80L326.70 347.74L327.50 347.59L328.30 347.47L329.10 347.39L329.90 347.73L330.70 347.48L331.50 347.59L332.30 347.25L333.10 347.31L333.90 347.19L334.70 347.65L335.50 347.54L336.30 347.24L337.10 347.65L337.90 346.86L338.70 346.21L339.50 345.47L340.30 345.89L341.10 347.21L341.90 347.81L342.70 348.50L343.50 348.97L344.30 348.36L345.10 348.15L345.90 347.31L345.93 347.91L346.70 344.20L346.83 344.28L347.33 346.06L347.50 348.36L347.73 352.08L348.13 356.55L348.30 354.58L348.93 347.29L349.10 347.40L349.90 347.84L350.70 347.85L351.50 347.80L352.30 347.22L353.10 347.35L353.90 347.78L354.70 347.19L355.50 347.66L356.30 347.34L357.10 347.79L357.90 347.03L358.70 347.40L359.50 346.73L360.30 346.07L361.10 345.37L361.90 345.44L362.70 345.02L363.50 344.96L364.30 345.63L365.10 346.57L365.90 346.61L366.70 347.22L367.50 347.11L368.30 347.23L369.10 347.68L369.90 347.64L370.70 347.29L371.50 347.21L372.00 347.21M281.36 347.50V342.20M335.53 347.50V342.20M372.00 347.50L372.80 347.58L373.60 347.50L374.40 347.34L375.20 347.29L376.00 347.58L376.80 347.65L377.60 347.72L378.40 347.56L379.20 347.29L380.00 347.20L380.80 347.66L381.60 347.44L382.40 347.66L383.20 347.19L384.00 347.72L384.80 347.38L385.60 347.74L386.40 347.76L387.20 347.50L388.00 347.16L388.80 347.79L389.60 347.48L390.40 347.75L391.20 347.26L392.00 346.96L392.80 346.98L393.60 346.41L394.40 346.53L395.20 347.19L396.00 347.86L396.80 347.92L397.60 348.51L398.40 348.24L399.20 347.88L400.00 346.01L400.10 346.24L400.50 346.93L400.80 350.04L401.00 351.72L401.40 355.45L401.60 353.49L402.30 347.68L402.40 347.19L403.20 347.76L404.00 347.82L404.80 347.50L405.60 347.51L406.40 347.52L407.20 347.53L408.00 347.16L408.80 347.83L409.60 347.30L410.40 347.25L411.20 347.14L412.00 347.08L412.80 347.14L413.60 346.02L414.40 345.33L415.20 345.07L416.00 344.39L416.80 344.47L417.60 345.49L418.40 346.23L419.20 346.82L420.00 347.34L420.80 347.11L421.60 347.73L422.40 347.64L423.20 347.18L424.00 347.24L424.80 347.50L425.60 347.50L426.40 347.35L427.20 347.24L428.00 347.43L428.80 347.25L429.60 347.56L430.40 347.75L431.20 347.25L432.00 347.55L432.80 347.67L433.60 347.27L434.40 347.73L435.20 347.81L436.00 347.42L436.80 347.44L437.60 347.74L438.40 347.52L439.20 347.43L440.00 347.81L440.80 347.69L441.60 347.39L442.40 347.32L443.20 347.38L444.00 347.45L444.80 347.82L445.60 347.59L446.40 347.35L447.20 346.86L448.00 346.77L448.80 346.60L449.60 347.45L450.40 348.25L451.20 348.68L452.00 348.30L452.80 348.11L453.37 347.96L453.60 347.29L454.27 346.11L454.40 345.98L454.67 346.66L455.17 351.85L455.20 351.77L455.57 355.05L456.00 351.90L456.47 347.69L456.80 347.81L457.60 347.59L458.40 347.72L459.20 347.77L460.00 347.77L460.80 347.17L461.60 347.60L462.40 347.34L463.20 347.62L464.00 347.33L464.80 347.49L465.60 347.68L466.40 347.27L467.20 346.61L468.00 346.16L468.80 345.35L469.60 345.10L470.40 344.46L471.20 344.81L472.00 345.74L472.80 346.11L473.60 347.00L474.40 347.59L475.20 347.43L476.00 347.32L476.80 347.47L477.60 347.52L478.40 347.25L479.20 347.24L480.00 347.24L480.80 347.36L481.60 347.43L482.40 347.35L483.20 347.32L484.00 347.21L484.80 347.53L485.60 347.74L486.40 347.58L487.20 347.55L488.00 347.61L488.80 347.29L489.60 347.65L490.40 347.47L491.20 347.53L492.00 347.58L492.80 347.48L493.60 347.37L494.40 347.32L495.20 347.31L496.00 347.51L496.80 347.42L497.60 347.56L498.40 347.15L499.20 347.36L500.00 347.57L500.80 346.76L501.60 346.59L502.40 346.59L503.20 346.91L504.00 347.92L504.80 347.93L505.60 348.64L506.40 348.18L507.20 347.73L507.54 348.13L507.90 347.08M389.70 347.50V343.20M443.87 347.50V343.20M498.04 347.50V343.20M507.90 347.81L508.24 347.37L508.70 346.00L509.04 344.89L509.50 346.57L509.54 346.26L509.84 350.20L510.30 355.14L510.34 355.37L511.10 347.64L511.14 347.39L511.90 347.40L512.70 347.62L513.50 347.58L514.30 347.74L515.10 347.72L515.90 347.51L516.70 347.67L517.50 347.67L518.30 347.68L519.10 347.47L519.90 347.66L520.70 347.52L521.50 347.48L522.30 346.62L523.10 346.74L523.90 345.75L524.70 346.09L525.50 346.06L526.30 346.33L527.10 347.07L527.90 347.15L528.70 347.27L529.50 347.63L530.30 347.74L531.10 347.57L531.90 347.41L532.70 347.47L533.50 347.47L534.30 347.66L535.10 347.36L535.90 347.42L536.70 347.54L537.50 347.42L538.30 347.38L539.10 347.70L539.90 347.74L540.70 347.50L541.50 347.46L542.30 347.28L543.10 347.36L543.90 347.25L544.70 347.55L545.50 347.56L546.30 347.21L547.10 347.79L547.90 347.38L548.70 347.74L549.50 347.74L550.30 347.82L551.10 347.29L551.90 347.45L552.70 347.78L553.50 347.06L554.30 346.75L555.10 346.44L555.90 345.91L556.70 346.50L557.50 347.11L558.30 347.47L559.10 348.20L559.90 348.27L560.70 348.40L561.50 348.21L562.30 347.64L562.41 347.58L563.10 345.37L563.21 344.83L563.71 346.85L563.90 349.10L564.01 350.41L564.51 354.92L564.70 353.28L565.31 347.43L565.50 347.54L566.30 347.55L567.10 347.77L567.90 347.83L568.70 347.49L569.50 347.46L570.30 347.59L571.10 347.85L571.90 347.39L572.70 347.52L573.50 347.70L574.30 347.21L575.10 347.21L575.90 347.45L576.70 347.00L577.50 346.37L578.30 345.74L579.10 346.18L579.90 346.21L580.70 346.68L581.50 347.20L582.30 347.45L583.10 347.31L583.90 347.21L584.70 347.34L585.50 347.50L586.30 347.50L587.10 347.28L587.90 347.28L588.70 347.59L589.50 347.57L590.30 347.40L591.10 347.85L591.90 347.60L592.70 347.18L593.50 347.44L594.30 347.70L595.10 347.36L595.90 347.63L596.70 347.15L597.50 347.36L598.30 347.74L599.10 347.56L599.90 347.62L600.70 347.29L601.50 347.50L602.30 347.54L603.10 347.34L603.90 347.60L604.70 347.52L605.50 347.85L606.30 347.55L607.10 347.41L607.90 347.08L608.70 346.66L609.50 346.38L610.30 345.64L611.10 346.12L611.90 346.87L612.70 347.58L613.50 348.20L614.30 348.42L615.10 348.55L615.90 347.66L616.58 347.34L616.70 347.45L617.38 344.81L617.50 345.47L617.88 346.43L618.18 350.16L618.30 351.38L618.68 354.92L619.10 351.44L619.48 347.56L619.90 347.39L620.70 347.46L621.50 347.42L622.30 347.19L623.10 347.77L623.90 347.56L624.70 347.82L625.50 347.46L626.30 347.58L627.10 347.32L627.90 347.15L628.70 347.72L629.50 347.53L630.30 346.90L631.10 346.94L631.90 346.47L632.70 345.82L633.50 346.00L634.30 346.49L635.10 346.57L635.90 347.28L636.70 347.06L637.50 347.32L638.30 347.62L639.10 347.30L639.90 347.36L640.70 347.76L641.50 347.49L642.30 347.70L643.10 347.32L643.60 347.27M552.21 347.50V343.90M606.38 347.50V343.90M100.70 411.49L101.50 411.34L102.30 411.19L103.10 411.73L103.90 411.25L104.70 411.44L105.50 411.13L106.30 411.42L107.10 411.32L107.90 411.33L108.70 411.10L109.50 411.14L110.30 411.63L111.10 411.30L111.90 411.22L112.70 411.18L113.50 411.25L114.30 411.22L115.10 411.07L115.90 411.51L116.70 411.29L117.50 411.16L118.30 411.54L119.10 411.11L119.90 411.23L120.70 411.57L121.50 410.87L122.30 410.64L123.10 410.49L123.90 410.51L124.70 410.58L125.50 411.43L126.30 412.62L127.10 413.20L127.90 413.56L128.70 412.23L128.95 412.50L129.50 409.92L129.65 409.15L129.85 409.94L130.30 403.37L130.35 403.08L130.45 401.03L130.70 405.90L131.05 416.68L131.10 417.22L131.45 422.04L131.90 416.39L132.20 412.20L132.70 412.93L133.50 412.78L134.30 413.21L135.10 413.11L135.90 412.56L136.70 412.48L137.50 411.83L138.30 411.76L139.10 411.55L139.90 411.29L140.70 411.30L141.50 411.02L142.30 410.93L143.10 411.11L143.90 410.29L144.70 410.00L145.50 409.18L146.30 409.35L147.10 409.41L147.90 409.99L148.70 410.42L149.50 410.77L150.30 411.32L151.10 411.49L151.90 411.51L152.70 411.90L153.50 411.50L154.30 411.49L155.10 411.76L155.90 411.62L156.70 411.68L157.50 411.66L158.30 411.14L159.10 411.24L159.90 411.07L160.70 411.53L161.50 411.51L162.30 411.30L163.10 411.34L163.90 411.51L164.70 411.54L165.50 411.22L166.30 411.64L167.10 411.30L167.90 411.49L168.70 411.18L169.50 411.13L170.30 411.69L171.10 411.56L171.90 411.55L172.70 411.08L173.50 411.08L174.30 411.15L175.10 411.09L175.90 410.88L176.70 410.45L177.50 409.89L178.30 410.28L179.10 411.11L179.90 411.56L180.70 412.98L181.50 413.44L182.30 413.19L183.10 412.03L183.12 412.13L183.82 409.47L183.90 409.49L184.02 409.63L184.52 403.17L184.62 401.39L184.70 402.46L184.87 405.30L185.22 416.86L185.50 420.61L185.62 421.90L186.30 413.13L186.37 412.13L187.10 413.00L187.90 412.91L188.70 413.48L189.50 413.17L190.30 412.31L191.10 412.31L191.90 411.74L192.70 411.77L193.50 411.70L194.30 411.26L195.10 411.08L195.90 411.59L196.70 411.03L197.50 411.05L198.30 410.40L199.10 409.91L199.90 409.61L200.70 409.42L201.50 409.59L202.30 409.84L203.10 410.86L203.90 411.15L204.70 411.54L205.50 412.02L206.30 411.52L207.10 411.91L207.90 411.31L208.70 411.67L209.50 411.67L210.30 411.25L211.10 411.44L211.90 411.73L212.70 411.50L213.50 411.43L214.30 411.22L215.10 411.09L215.90 411.30L216.70 411.34L217.50 411.19L218.30 411.27L219.10 411.15L219.90 411.54L220.70 411.52L221.50 411.22L222.30 411.22L223.10 411.41L223.90 411.36L224.70 411.71L225.50 411.30L226.30 411.26L227.10 411.67L227.90 411.15L228.70 411.42L229.50 411.13L230.30 411.12L231.10 410.44L231.90 410.39L232.70 410.33L233.50 411.33L234.30 412.11L235.10 412.98L235.90 413.58L236.70 413.03L237.29 411.91L237.50 411.14L237.99 409.24L238.19 409.77L238.30 408.11L238.69 402.78L238.79 400.98L239.04 405.76L239.10 407.47L239.39 416.34L239.79 422.09L239.90 420.75L240.54 412.30L240.70 412.25L241.50 412.60L242.30 412.82L243.10 413.51L243.90 413.07L244.70 412.18L245.50 412.21L246.30 412.08L247.10 411.59L247.90 411.18L248.70 411.39L249.50 411.30L250.30 411.02L251.10 411.04L251.90 410.28L252.70 410.41L253.50 409.72L254.30 409.42L255.10 409.68L255.90 409.87L256.70 410.14L257.50 410.69L258.30 411.06L259.10 411.27L259.90 411.94L260.70 412.01L261.50 411.56L262.30 411.38L263.10 411.60L263.90 411.69L264.70 411.71L265.50 411.17L266.30 411.60L267.10 411.63L267.90 411.57L268.70 411.28L269.50 411.18L270.30 411.63L271.10 411.27L271.90 411.31L272.70 411.44L273.50 411.31L274.30 411.63L275.10 411.22L275.90 411.08L276.70 411.45L277.50 411.49L278.30 411.62L279.10 411.54L279.90 411.68L280.70 411.71L281.50 411.40L282.30 411.39L283.10 411.11L283.90 411.03L284.70 410.81L285.50 410.00L286.30 410.39L287.10 410.50L287.90 411.39L288.70 412.65L289.50 412.93L290.30 412.98L291.10 412.51L291.46 411.96L291.90 410.50L292.16 408.99L292.36 410.21L292.70 405.42L292.86 403.13L292.96 401.14L293.21 405.47L293.50 414.84L293.56 416.63L293.96 422.16L294.30 417.64L294.71 412.36L295.10 412.73L295.90 413.23L296.70 413.48L297.50 412.87L298.30 412.64L299.10 412.31L299.90 412.00L300.70 411.57L301.50 411.30L302.30 411.14L303.10 411.26L303.90 411.29L304.70 411.51L305.50 411.20L306.30 410.74L307.10 410.29L307.90 409.83L308.70 409.39L309.50 409.68L310.30 409.60L311.10 410.61L311.90 411.09L312.70 411.27L313.50 411.71L314.30 412.09L315.10 411.74L315.90 411.77L316.70 411.43L317.50 411.37L318.30 411.70L319.10 411.08L319.90 411.19L320.70 411.53L321.50 411.36L322.30 411.11L323.10 411.51L323.90 411.31L324.70 411.46L325.50 411.34L326.30 411.42L327.10 411.45L327.90 411.33L328.70 411.13L329.50 411.18L330.30 411.67L331.10 411.43L331.90 411.13L332.70 411.65L333.50 411.23L334.30 411.12L335.10 411.42L335.90 411.22L336.70 411.38L337.50 411.36L338.30 410.88L339.10 410.66L339.90 409.95L340.70 410.36L341.50 410.98L342.30 411.37L343.10 412.55L343.90 413.05L344.70 413.10L345.50 412.56L345.63 412.21L346.30 409.60L346.33 409.52L346.53 409.71L347.03 403.27L347.10 401.87L347.13 400.92L347.38 405.85L347.73 416.54L347.90 418.76L348.13 422.54L348.70 414.79L348.88 412.59L349.50 412.48L350.30 413.28L351.10 412.89L351.90 412.85L352.70 412.57L353.50 411.89L354.30 411.93L355.10 411.42L355.90 411.34L356.70 411.56L357.50 411.32L358.30 411.56L359.10 411.20L359.90 411.06L360.70 410.38L361.50 410.11L362.30 409.67L363.10 409.08L363.90 409.74L364.70 409.96L365.50 410.83L366.30 411.26L367.10 411.72L367.90 411.44L368.70 411.69L369.50 411.90L370.30 411.95L371.10 411.69L371.90 411.15L372.70 411.50L373.50 411.13L374.30 411.44L375.10 411.61L375.90 411.13L376.70 411.70L377.50 411.52L378.30 411.23L379.10 411.19L379.90 411.36L380.70 411.64L381.50 411.46L382.30 411.13L383.10 411.06L383.90 411.13L384.70 411.61L385.50 411.18L386.30 411.44L387.10 411.25L387.90 411.53L388.70 411.32L389.50 411.15L390.30 411.66L391.10 411.40L391.90 411.41L392.70 411.17L393.50 410.78L394.30 409.86L395.10 410.38L395.90 410.87L396.70 411.92L397.50 413.14L398.30 413.61L399.10 412.60L399.80 411.96L399.90 411.97L400.50 409.47L400.70 409.90L401.20 402.91L401.30 400.96L401.50 404.98L401.55 405.55L401.90 416.88L402.30 422.29L403.05 412.10L403.10 412.31L403.90 412.65L404.70 413.42L405.50 413.24L406.30 412.62L407.10 412.30L407.90 412.01L408.70 411.75L409.50 411.62L410.30 411.38L411.10 411.30L411.90 411.01L412.70 411.31L413.50 410.93L414.30 410.35L415.10 410.16L415.90 410.02L416.70 409.03L417.50 409.10L418.30 409.81L419.10 410.08L419.90 410.64L420.70 411.26L421.50 411.40L422.30 411.79L423.10 411.79L423.90 412.03L424.70 411.95L425.50 411.19L426.30 411.49L427.10 411.61L427.90 411.67L428.70 411.59L429.50 411.49L430.30 411.49L431.10 411.30L431.90 411.25L432.70 411.61L433.50 411.66L434.30 411.71L435.10 411.53L435.90 411.26L436.70 411.58L437.50 411.57L438.30 411.41L439.10 411.49L439.90 411.30L440.70 411.44L441.50 411.33L442.30 411.09L443.10 411.29L443.90 411.28L444.70 411.74L445.50 411.35L446.30 411.12L447.10 410.64L447.90 410.16L448.70 410.12L449.50 410.39L450.30 410.98L451.10 412.45L451.90 413.09L452.70 413.32L453.50 412.72L453.97 412.04L454.30 410.56L454.67 409.04L454.87 409.84L455.10 406.58L455.37 403.09L455.47 401.23L455.72 405.93L455.90 411.16L456.07 416.91L456.47 422.28L456.70 418.90L457.22 412.17L457.50 412.61L458.30 413.30L459.10 413.08L459.90 413.33L460.70 412.79L461.50 412.67L462.30 411.70L463.10 411.69L463.90 411.81L464.70 411.29L465.50 411.22L466.30 411.00L467.10 410.97L467.90 410.80L468.70 410.69L469.50 409.84L470.30 409.48L471.10 409.10L471.90 409.49L472.70 410.09L473.50 410.51L474.30 410.73L475.10 411.53L475.90 411.96L476.70 411.83L477.50 411.47L478.30 411.90L479.10 411.84L479.90 411.38L480.70 411.18L481.50 411.19L482.30 411.43L483.10 411.66L483.90 411.50L484.70 411.70L485.50 411.20L486.30 411.28L487.10 411.57L487.90 411.50L488.70 411.33L489.50 411.53L490.30 411.29L491.10 411.09L491.90 411.34L492.70 411.08L493.50 411.49L494.30 411.28L495.10 411.40L495.90 411.47L496.70 411.23L497.50 411.37L498.30 411.06L499.10 411.69L499.90 411.38L500.70 411.47L501.50 410.37L502.30 410.33L503.10 410.46L503.90 410.71L504.70 411.26L505.50 412.23L506.30 413.05L507.10 413.42L507.90 412.13L508.14 412.40L508.70 409.82L508.84 409.37L509.04 410.04L509.50 403.53L509.54 403.04L509.64 401.27L509.89 405.50L510.24 416.78L510.30 417.28L510.64 422.37L511.10 416.37L511.39 412.59L511.90 412.54L512.70 413.24L513.50 413.53L514.30 413.04L515.10 412.56L515.90 412.30L516.70 412.21L517.50 411.39L518.30 411.15L519.10 411.41L519.90 411.49L520.70 411.50L521.50 411.05L522.30 411.20L523.10 410.22L523.90 410.06L524.70 409.17L525.50 408.97L526.30 409.26L527.10 409.69L527.90 410.57L528.70 411.12L529.50 411.23L530.30 411.99L531.10 411.68L531.90 411.50L532.70 411.43L533.50 411.72L534.30 411.77L535.10 411.19L535.90 411.08L536.70 411.60L537.50 411.22L538.30 411.74L539.10 411.40L539.90 411.50L540.70 411.29L541.50 411.61L542.30 411.37L543.10 411.28L543.90 411.68L544.70 411.13L545.50 411.56L546.30 411.10L547.10 411.50L547.90 411.33L548.70 411.65L549.50 411.09L550.30 411.44L551.10 411.34L551.90 411.69L552.70 411.71L553.50 411.47L554.30 411.10L555.10 410.84L555.90 410.37L556.70 410.16L557.50 410.23L558.30 410.81L559.10 411.97L559.90 412.86L560.70 413.25L561.50 413.38L562.30 411.99L562.31 412.23L563.01 409.10L563.10 409.88L563.21 410.23L563.71 402.77L563.81 401.37L563.90 403.01L564.06 405.47L564.41 416.50L564.70 420.66L564.81 422.49L565.50 412.94L565.56 412.53L566.30 412.87L567.10 413.08L567.90 413.25L568.70 413.26L569.50 412.39L570.30 412.43L571.10 411.72L571.90 411.79L572.70 411.73L573.50 411.19L574.30 411.62L575.10 411.62L575.90 410.94L576.70 410.41L577.50 409.99L578.30 410.07L579.10 409.03L579.90 409.62L580.70 409.39L581.50 410.32L582.30 410.44L583.10 410.97L583.90 411.66L584.70 411.44L585.50 411.66L586.30 412.02L587.10 411.78L587.90 411.79L588.70 411.79L589.50 411.09L590.30 411.22L591.10 411.61L591.90 411.53L592.70 411.08L593.50 411.40L594.30 411.21L595.10 411.35L595.90 411.12L596.70 411.06L597.50 411.74L598.30 411.27L599.10 411.67L599.90 411.13L600.70 411.39L601.50 411.15L602.30 411.35L603.10 411.18L603.90 411.53L604.70 411.15L605.50 411.57L606.30 411.40L607.10 411.13L607.90 411.27L608.70 411.24L609.50 411.18L610.30 410.29L611.10 410.01L611.90 410.89L612.70 411.49L613.50 412.22L614.30 412.85L615.10 413.16L615.90 412.63L616.48 411.88L616.70 410.92L617.18 409.35L617.38 409.91L617.50 408.31L617.88 402.84L617.98 400.85L618.23 405.75L618.30 407.93L618.58 416.65L618.98 422.25L619.10 420.77L619.73 412.74L619.90 412.75L620.70 413.06L621.50 413.10L622.30 413.03L623.10 412.83L623.90 412.80L624.70 411.97L625.50 411.66L626.30 411.48L627.10 411.20L627.90 411.75L628.70 411.00L629.50 411.31L630.30 411.30L631.10 410.44L631.90 410.18L632.70 409.52L633.50 409.14L634.30 409.17L635.10 409.50L635.90 410.56L636.70 411.07L637.50 411.60L638.30 411.29L639.10 411.89L639.90 411.65L640.70 411.80L641.50 411.63L642.30 411.37L643.10 411.77L643.60 411.07M118.85 414.10V405.20M173.02 414.10V405.20M227.19 414.10V405.20M281.36 414.10V405.20M335.53 414.10V405.20M389.70 414.10V405.20M443.87 414.10V405.20M498.04 414.10V405.20M552.21 414.10V405.20M606.38 414.10V405.20" stroke="#464646" stroke-width="0.8" fill="none" stroke-linejoin="round"/>
<path d="M87.3 215.4H89.6V192.5H96.0V215.4H97.8M87.3 285.3H89.6V262.40000000000003H96.0V285.3H97.8M87.3 347.5H89.6V324.6H96.0V347.5H97.8M87.3 411.4H89.6V388.5H96.0V411.4H97.8" stroke="#505050" stroke-width="1.0" fill="none"/>
<path d="M236.3 162.4V423 M372.0 162.4V423 M507.9 162.4V423" stroke="#424242" stroke-width="0.95" stroke-dasharray="3.3 3.0" fill="none"/>
<text x="103.00" y="211.30" font-size="8.43" fill="#474747" stroke="#474747" stroke-width="0.3">I</text>
<text x="239.20" y="211.40" font-size="8.43" fill="#474747" stroke="#474747" stroke-width="0.3">aVR</text>
<text x="374.30" y="211.40" font-size="8.43" fill="#474747" stroke="#474747" stroke-width="0.3">V1</text>
<text x="510.00" y="211.40" font-size="8.43" fill="#474747" stroke="#474747" stroke-width="0.3">V4</text>
<text x="102.80" y="280.90" font-size="8.43" fill="#474747" stroke="#474747" stroke-width="0.3">II</text>
<text x="239.20" y="280.90" font-size="8.43" fill="#474747" stroke="#474747" stroke-width="0.3">aVL</text>
<text x="374.30" y="280.90" font-size="8.43" fill="#474747" stroke="#474747" stroke-width="0.3">V2</text>
<text x="510.00" y="280.90" font-size="8.43" fill="#474747" stroke="#474747" stroke-width="0.3">V5</text>
<text x="102.80" y="342.90" font-size="8.43" fill="#474747" stroke="#474747" stroke-width="0.3">III</text>
<text x="239.20" y="342.90" font-size="8.43" fill="#474747" stroke="#474747" stroke-width="0.3">aVF</text>
<text x="374.30" y="342.90" font-size="8.43" fill="#474747" stroke="#474747" stroke-width="0.3">V3</text>
<text x="510.00" y="342.90" font-size="8.43" fill="#474747" stroke="#474747" stroke-width="0.3">V6</text>
<text x="102.80" y="407.20" font-size="8.43" fill="#474747" stroke="#474747" stroke-width="0.3">II</text>
<path d="M100.7 464.5H643.8M118.85 453.3V464.5M173.02 453.3V464.5M227.19 453.3V464.5M281.36 453.3V464.5M335.53 453.3V464.5M389.70 453.3V464.5M443.87 453.3V464.5M498.04 453.3V464.5M552.21 453.3V464.5M606.38 453.3V464.5" stroke="#4a4a4a" stroke-width="1.0" fill="none"/>
<text x="93.90" y="462.20" font-size="8.28" fill="#444444" font-weight="bold" textLength="5.60" lengthAdjust="spacingAndGlyphs">P</text>
<path d="M101.5 472.4H643.8" stroke="#6a6a6a" stroke-width="0.9" stroke-dasharray="2.3 1.4" fill="none"/>
<path d="M100.70 468.3V472.4M154.98 468.3V472.4M209.26 468.3V472.4M263.54 468.3V472.4M317.82 468.3V472.4M372.10 468.3V472.4M426.38 468.3V472.4M480.66 468.3V472.4M534.94 468.3V472.4M589.22 468.3V472.4M643.50 468.3V472.4M100.70 468.5V474.7M236.40 468.5V474.7M372.10 468.5V474.7M507.80 468.5V474.7M643.50 468.5V474.7" stroke="#4a4a4a" stroke-width="0.9" fill="none"/>
<text x="101.60" y="470.60" font-size="8.60" fill="#333333" textLength="15.20" lengthAdjust="spacingAndGlyphs" stroke="#333333" stroke-width="0.25">0.0s</text>
<text x="237.80" y="470.60" font-size="8.60" fill="#333333" textLength="14.50" lengthAdjust="spacingAndGlyphs" stroke="#333333" stroke-width="0.25">2.5s</text>
<text x="372.60" y="470.60" font-size="8.60" fill="#333333" textLength="15.70" lengthAdjust="spacingAndGlyphs" stroke="#333333" stroke-width="0.25">5.0s</text>
<text x="509.30" y="470.60" font-size="8.60" fill="#333333" textLength="14.60" lengthAdjust="spacingAndGlyphs" stroke="#333333" stroke-width="0.25">7.5s</text>
<text x="621.50" y="470.60" font-size="8.60" fill="#333333" textLength="19.80" lengthAdjust="spacingAndGlyphs" stroke="#333333" stroke-width="0.25">10.0s</text>
<text x="116.40" y="483.80" font-size="8.60" fill="#3d3d3d" textLength="43.70" lengthAdjust="spacingAndGlyphs" stroke="#3d3d3d" stroke-width="0.3">0.67~150Hz</text>
<text x="164.70" y="483.80" font-size="8.60" fill="#3d3d3d" textLength="19.10" lengthAdjust="spacingAndGlyphs" stroke="#3d3d3d" stroke-width="0.3">AC50</text>
<text x="192.00" y="483.80" font-size="8.60" fill="#3d3d3d" textLength="27.00" lengthAdjust="spacingAndGlyphs" stroke="#3d3d3d" stroke-width="0.3">25mm/s</text>
<text x="223.10" y="483.80" font-size="8.60" fill="#3d3d3d" textLength="36.10" lengthAdjust="spacingAndGlyphs" stroke="#3d3d3d" stroke-width="0.3">10mm/mV</text>
<text x="262.70" y="483.80" font-size="8.60" fill="#3d3d3d" textLength="24.40" lengthAdjust="spacingAndGlyphs" stroke="#3d3d3d" stroke-width="0.3">4x2.5s</text>
<text x="298.70" y="483.80" font-size="8.60" fill="#3d3d3d" textLength="7.10" lengthAdjust="spacingAndGlyphs" stroke="#3d3d3d" stroke-width="0.3">1r</text>
<text x="313.80" y="483.80" font-size="8.60" fill="#3d3d3d" textLength="31.20" lengthAdjust="spacingAndGlyphs" stroke="#3d3d3d" stroke-width="0.3">SE-1201</text>
<text x="350.20" y="483.80" font-size="8.60" fill="#3d3d3d" textLength="13.60" lengthAdjust="spacingAndGlyphs" stroke="#3d3d3d" stroke-width="0.3">Pro</text>
<text x="366.90" y="483.80" font-size="8.60" fill="#3d3d3d" textLength="82.10" lengthAdjust="spacingAndGlyphs" stroke="#3d3d3d" stroke-width="0.3">V02.01.01.01-AUS001</text>
<text x="458.30" y="483.80" font-size="8.60" fill="#3d3d3d" textLength="38.60" lengthAdjust="spacingAndGlyphs" stroke="#3d3d3d" stroke-width="0.3">GLASGOW</text>
<text x="500.00" y="483.80" font-size="8.60" fill="#3d3d3d" textLength="29.20" lengthAdjust="spacingAndGlyphs" stroke="#3d3d3d" stroke-width="0.3">V30.4.3</text>
<text x="290.60" y="482.90" font-size="6.10" fill="#3d3d3d" font-weight="bold" textLength="4.60" lengthAdjust="spacingAndGlyphs">+</text>
<defs><clipPath id="cl"><rect x="660" y="400" width="31.9" height="50"/></clipPath><clipPath id="cr"><rect x="691.9" y="400" width="40" height="38.3"/></clipPath><clipPath id="cb"><rect x="660" y="400" width="70" height="38.3"/></clipPath></defs>
<g fill="#ac1b22" clip-path="url(#cb)"><circle cx="698.2" cy="417.8" r="9.5"/><circle cx="708.2" cy="428.6" r="8.8"/><rect x="689.5" y="420" width="19" height="18.3"/></g>
<g fill="#e8415a" clip-path="url(#cl)"><g clip-path="url(#cb)"><circle cx="678.4" cy="431" r="7.7"/><circle cx="684.2" cy="424.3" r="7.6"/><rect x="678.4" y="426" width="14" height="12.3"/></g></g>
<text x="676.80" y="445.60" font-size="5.81" fill="#8a939c" textLength="16.30" lengthAdjust="spacingAndGlyphs">Cloud</text>
<text x="693.50" y="445.60" font-size="5.81" fill="#2c4a68" font-weight="bold" textLength="16.30" lengthAdjust="spacingAndGlyphs">Holter</text>
<text x="673.20" y="473.80" font-size="6.69" fill="#4d5a69" textLength="26.10" lengthAdjust="spacingAndGlyphs">Timezone</text>
<text x="673.20" y="480.40" font-size="6.40" fill="#4d5a69" textLength="38.50" lengthAdjust="spacingAndGlyphs">Australia/Perth</text>
</svg>
</body></html>
